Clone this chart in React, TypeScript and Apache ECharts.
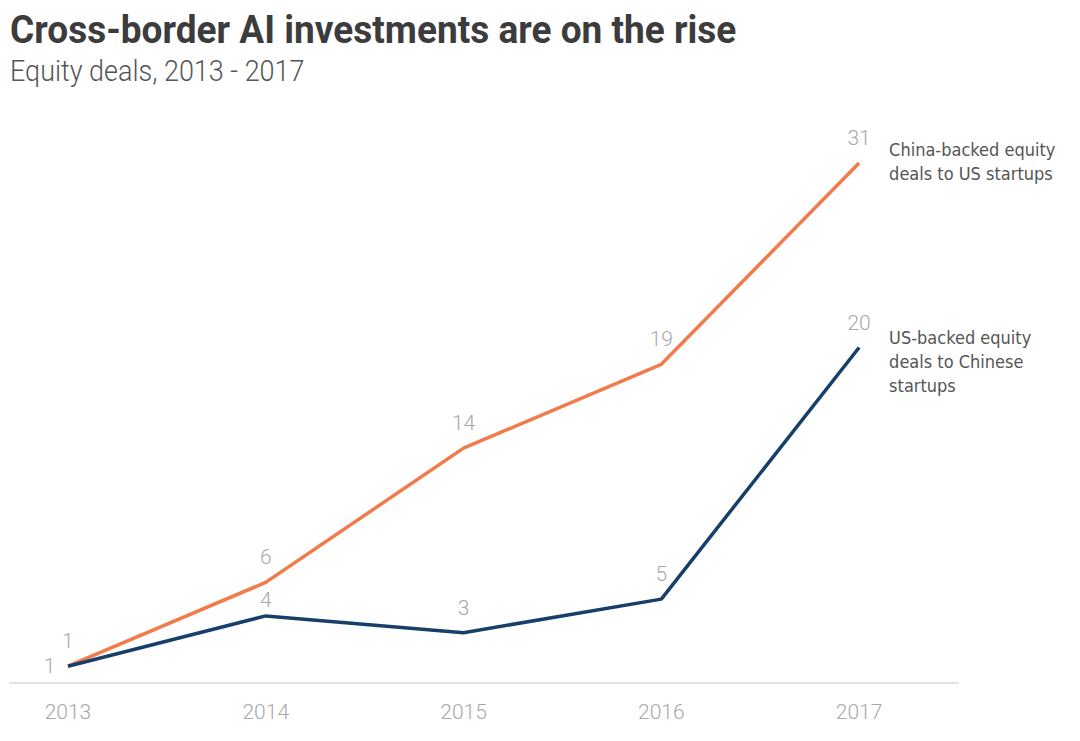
import React, { useEffect, useRef } from "react";
import * as echarts from "echarts";

const years = [2013, 2014, 2015, 2016, 2017];
const chinaBacked = [1, 6, 14, 19, 31];
const usBacked = [1, 4, 3, 5, 20];
const chinaName = "China-backed equity\ndeals to US startups";
const usName = "US-backed equity\ndeals to Chinese\nstartups";
const titleText = "Cross-border AI investments are on the rise";
const subtitleText = "Equity deals, 2013 - 2017";

const ORANGE = "#f27b4b";
const NAVY = "#173f6c";
const LABEL_GRAY = "#a8a8a8";

export default function App() {
  const ref = useRef<HTMLDivElement>(null);
  useEffect(() => {
    if (!ref.current) return;
    const chart = echarts.init(ref.current, null, { renderer: "svg" });
    const valueLabel = {
      show: true,
      position: "top" as const,
      distance: 14,
      color: LABEL_GRAY,
      fontFamily: "Roboto",
      fontWeight: 300 as const,
      fontSize: 21,
    };
    const endLabelBase = {
      show: true,
      color: "#555555",
      fontFamily: "'Liberation Sans Narrow', 'DejaVu Sans Condensed', Roboto",
      fontSize: 18,
      lineHeight: 24,
      align: "left" as const,
      verticalAlign: "top" as const,
      distance: 0,
    };
    chart.setOption({
      animation: false,
      backgroundColor: "#ffffff",
      graphic: [
        {
          type: "text",
          left: 10,
          top: 10,
          scaleX: 0.95,
          style: {
            text: titleText,
            fontFamily: "Roboto",
            fontWeight: "bold",
            fontSize: 39,
            fill: "#3c3c3c",
          },
        },
        {
          type: "text",
          left: 10,
          top: 57,
          scaleX: 0.93,
          style: {
            text: subtitleText,
            fontFamily: "Roboto",
            fontWeight: 300,
            fontSize: 29,
            fill: "#555555",
          },
        },
      ],
      grid: { left: 10, right: 122, top: 163, bottom: 58 },
      xAxis: {
        type: "value",
        min: 2012.707,
        max: 2017.5,
        splitLine: { show: false },
        axisTick: { show: false },
        axisLine: { show: true, lineStyle: { color: "#e3e3e3", width: 2 } },
        axisLabel: {
          color: LABEL_GRAY,
          fontFamily: "Roboto",
          fontWeight: 300,
          fontSize: 21,
          margin: 18,
          customValues: years,
          formatter: (v: number) => String(v),
        },
      },
      yAxis: { type: "value", min: 0, max: 31, show: false, splitLine: { show: false } },
      series: [
        {
          name: chinaName,
          type: "line",
          data: years.map((y, i) => [y, chinaBacked[i]]),
          showSymbol: true,
          symbol: "circle",
          symbolSize: 1,
          lineStyle: { color: ORANGE, width: 3.5 },
          itemStyle: { color: "rgba(0,0,0,0)" },
          label: valueLabel,
          labelLayout: { hideOverlap: false },
          endLabel: { ...endLabelBase, offset: [30, -26], formatter: chinaName },
          z: 2,
        },
        {
          name: usName,
          type: "line",
          data: years.map((y, i) =>
            i === 0
              ? { value: [y, usBacked[i]], label: { position: "left", distance: 12 } }
              : i === 1
              ? { value: [y, usBacked[i]], label: { distance: 5 } }
              : [y, usBacked[i]]
          ),
          showSymbol: true,
          symbol: "circle",
          symbolSize: 1,
          lineStyle: { color: NAVY, width: 3.5 },
          itemStyle: { color: "rgba(0,0,0,0)" },
          label: valueLabel,
          labelLayout: { hideOverlap: false },
          endLabel: { ...endLabelBase, offset: [30, -22], formatter: usName },
          z: 3,
        },
      ],
    });
    return () => chart.dispose();
  }, []);
  return (
    <div
      ref={ref}
      style={{ position: "fixed", left: 0, top: 0, width: 1080, height: 741 }}
    />
  );
}
